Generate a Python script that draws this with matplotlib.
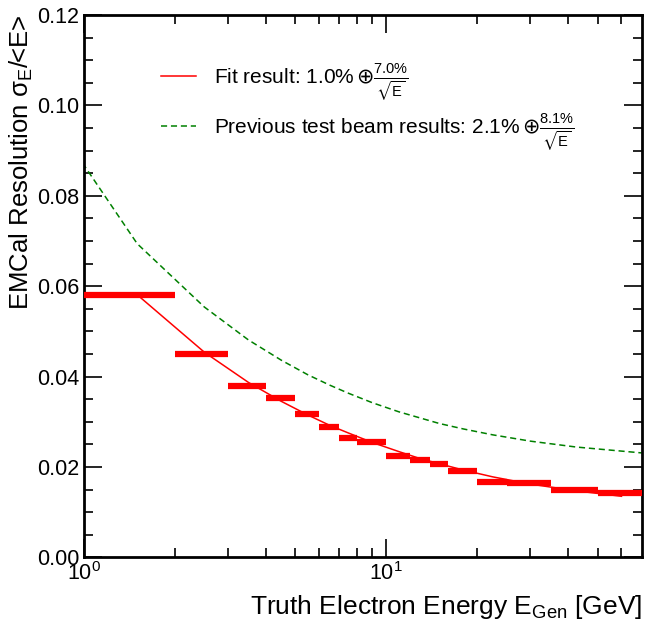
import matplotlib
matplotlib.use('Agg')
import matplotlib.pyplot as plt
from matplotlib.ticker import MultipleLocator, FixedLocator, NullFormatter

plt.rcParams['font.family'] = ['Liberation Sans', 'DejaVu Sans']
plt.rcParams['mathtext.fontset'] = 'custom'
plt.rcParams['mathtext.rm'] = 'Liberation Sans'
plt.rcParams['mathtext.it'] = 'Liberation Sans:italic'
plt.rcParams['mathtext.bf'] = 'Liberation Sans:bold'
plt.rcParams['mathtext.sf'] = 'DejaVu Sans'
plt.rcParams['mathtext.fallback'] = 'stixsans'

# energy bins [GeV] and measured resolution per bin
bin_lo = [1, 2, 3, 4, 5, 6, 7, 8, 10, 12, 14, 16, 20, 25, 35, 50]
bin_hi = [2, 3, 4, 5, 6, 7, 8, 10, 12, 14, 16, 20, 25, 35, 50, 70]
resolution = [0.0581, 0.0449, 0.0380, 0.0352, 0.0318, 0.0289, 0.0265, 0.0256,
              0.0225, 0.0216, 0.0207, 0.0192, 0.0167, 0.0164, 0.0149, 0.0143]

# fit curve (at bin centres)
fit_e = [1.5, 2.5, 3.5, 4.5, 5.5, 6.5, 7.5, 9, 11, 13, 15, 18, 22.5, 30, 42.5, 60]
fit_res = [0.0581, 0.0454, 0.0387, 0.0345, 0.0315, 0.0292, 0.0275, 0.0254,
           0.0234, 0.0218, 0.0207, 0.0193, 0.0178, 0.0162, 0.0147, 0.0135]

# previous test beam curve
tb_e = [0.5, 1.5, 2.5, 3.5, 4.5, 5.5, 6.5, 7.5, 9, 11, 13, 15, 18, 22.5, 30, 42.5, 60, 70]
tb_res = [0.1165, 0.0694, 0.0554, 0.0481, 0.0436, 0.0404, 0.0381, 0.0363, 0.0342,
          0.0322, 0.0308, 0.0296, 0.0284, 0.0271, 0.0257, 0.0244, 0.0235, 0.0231]

fig = plt.figure(figsize=(6.49, 6.28), dpi=100)
ax = fig.add_axes([0.1294, 0.1126, 0.8594, 0.8634])

ax.plot(fit_e, fit_res, color='red', lw=1.1,
        label=r'Fit result: 1.0%$\,\mathsf{\oplus}\frac{7.0\%}{\sqrt{\mathrm{E}}}$')
ax.plot(tb_e, tb_res, color='green', lw=1.1, ls=(0, (4, 2.5)),
        label=r'Previous test beam results: 2.1%$\,\mathsf{\oplus}\frac{8.1\%}{\sqrt{\mathrm{E}}}$')
ax.hlines(resolution, bin_lo, bin_hi, colors='red', lw=4.5, zorder=3)

ax.set_xscale('log')
ax.set_xlim(1, 70)
ax.set_ylim(0, 0.12)

ax.yaxis.set_major_locator(MultipleLocator(0.02))
ax.yaxis.set_minor_locator(MultipleLocator(0.005))
ax.yaxis.set_major_formatter(plt.FormatStrFormatter('%.2f'))
ax.xaxis.set_major_locator(FixedLocator([1, 10]))
ax.xaxis.set_minor_locator(FixedLocator([2, 3, 4, 5, 6, 7, 8, 9, 20, 30, 40, 50, 60]))
ax.xaxis.set_minor_formatter(NullFormatter())

ax.tick_params(which='both', direction='in', top=True, right=True, labelsize=15.5, width=1.2)
ax.tick_params(which='major', length=13, pad=3.5)
ax.tick_params(which='minor', length=6.5)
for s in ax.spines.values():
    s.set_linewidth(2)

ax.set_xlabel(r'Truth Electron Energy E$_{\mathrm{Gen}}$ [GeV]', fontsize=19, loc='right', labelpad=6)
ax.set_ylabel(r'EMCal Resolution $\mathrm{\sigma_{E}}$/<E>', fontsize=18.5, loc='top', labelpad=1)

ax.legend(loc='upper left', bbox_to_anchor=(0.104, 0.948), frameon=False, fontsize=15,
          handlelength=1.7, handletextpad=0.85, labelspacing=0.5)

plt.savefig('out.png', dpi=100)
